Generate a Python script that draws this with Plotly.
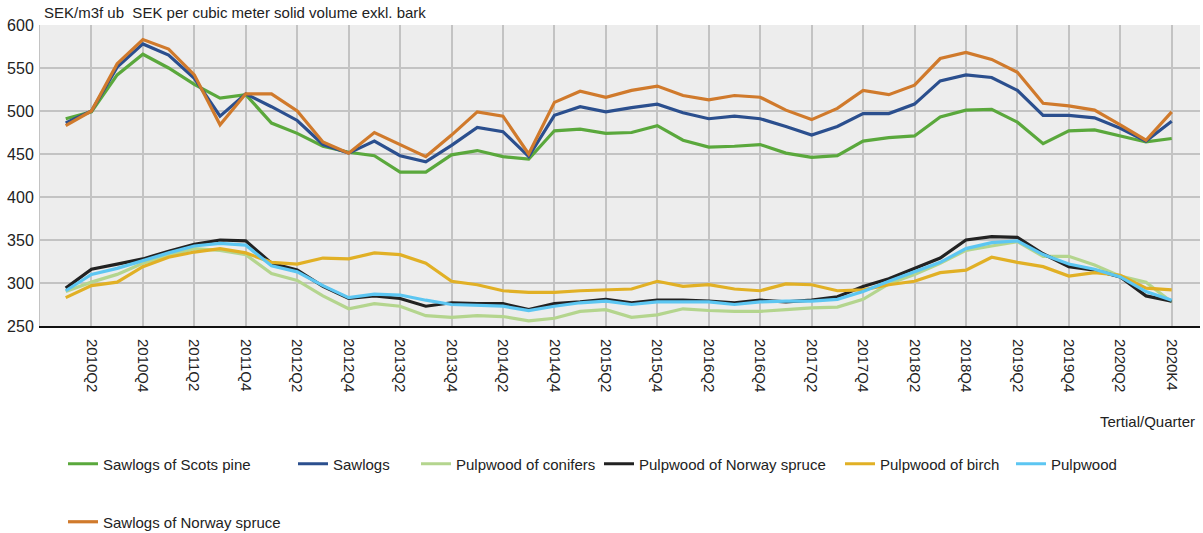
import plotly.graph_objects as go

# ---------------- data ----------------
quarter_index = list(range(44))  # 2010Q1 ... 2020Q4

tick_positions = list(range(1, 44, 2))
tick_labels = [
    "2010Q2", "2010Q4", "2011Q2", "2011Q4", "2012Q2", "2012Q4", "2013Q2", "2013Q4",
    "2014Q2", "2014Q4", "2015Q2", "2015Q4", "2016Q2", "2016Q4", "2017Q2", "2017Q4",
    "2018Q2", "2018Q4", "2019Q2", "2019Q4", "2020Q2", "2020K4",
]

sawlogs_scots_pine = [491, 499, 542, 566, 550, 531, 515, 519, 486, 474, 459, 452, 448, 429, 429, 449,
                      454, 447, 444, 477, 479, 474, 475, 483, 466, 458, 459, 461, 451, 446, 448, 465,
                      469, 471, 493, 501, 502, 487, 462, 477, 478, 471, 464, 468]
sawlogs = [486, 500, 551, 578, 565, 538, 494, 520, 505, 489, 461, 451, 465, 448, 441, 460,
           481, 476, 447, 495, 505, 499, 504, 508, 498, 491, 494, 491, 482, 472, 482, 497,
           497, 508, 535, 542, 539, 524, 495, 495, 492, 480, 465, 488]
pulpwood_conifers = [290, 301, 310, 323, 332, 340, 338, 333, 311, 303, 285, 270, 276, 273, 262, 260,
                     262, 261, 256, 259, 267, 269, 260, 263, 270, 268, 267, 267, 269, 271, 272, 281,
                     299, 310, 323, 338, 343, 348, 331, 331, 321, 308, 301, 278]
pulpwood_norway_spruce = [294, 316, 322, 328, 337, 345, 350, 349, 323, 315, 296, 282, 285, 282, 273, 277,
                          276, 276, 269, 276, 278, 281, 277, 280, 280, 279, 277, 280, 278, 280, 284, 296,
                          305, 317, 329, 350, 354, 353, 334, 319, 315, 307, 285, 279]
pulpwood_birch = [283, 297, 301, 319, 330, 336, 340, 335, 324, 322, 329, 328, 335, 333, 323, 302,
                  298, 291, 289, 289, 291, 292, 293, 302, 296, 298, 293, 291, 299, 298, 291, 292,
                  298, 302, 312, 315, 330, 324, 319, 308, 312, 309, 294, 292]
pulpwood = [291, 310, 317, 326, 335, 343, 346, 344, 320, 313, 297, 283, 287, 286, 280, 275,
            274, 273, 268, 273, 277, 279, 275, 278, 278, 278, 275, 278, 279, 279, 281, 290,
            302, 313, 324, 340, 347, 349, 333, 322, 316, 307, 290, 280]
sawlogs_norway_spruce = [483, 500, 555, 583, 572, 542, 484, 520, 520, 500, 464, 451, 475, 461, 447, 472,
                         499, 494, 450, 510, 523, 516, 524, 529, 518, 513, 518, 516, 501, 490, 503, 524,
                         519, 530, 561, 568, 560, 545, 509, 506, 501, 484, 466, 499]

series_names = ["Sawlogs of Scots pine", "Sawlogs", "Pulpwood of conifers",
                "Pulpwood of Norway spruce", "Pulpwood of birch", "Pulpwood",
                "Sawlogs of Norway spruce"]
series_values = [sawlogs_scots_pine, sawlogs, pulpwood_conifers, pulpwood_norway_spruce,
                 pulpwood_birch, pulpwood, sawlogs_norway_spruce]

# ---------------- style ----------------
colors = ["#5aa83c", "#2b4f8e", "#b4d58e", "#222222", "#e1b025", "#5cc6f2", "#d07a2c"]
FONT = "Liberation Sans, Arial, sans-serif"
W, H = 1203, 533
# legend positions (pixels: left of line sample, vertical centre)
legend_px = [(63, 464), (293, 464), (416, 464), (599, 464), (840, 464), (1011, 464), (63, 522)]

fig = go.Figure()
legend_ids = ["legend"] + [f"legend{i}" for i in range(2, 8)]
for name, vals, col, lid in zip(series_names, series_values, colors, legend_ids):
    fig.add_trace(go.Scatter(
        x=quarter_index, y=vals, name=name, mode="lines",
        line=dict(color=col, width=3.2), legend=lid,
    ))

layout_legends = {}
for lid, (px, py) in zip(legend_ids, legend_px):
    layout_legends[lid] = dict(
        xref="container", yref="container",
        x=px / W, y=1 - py / H, xanchor="left", yanchor="middle",
        orientation="h", bgcolor="rgba(0,0,0,0)",
        font=dict(family=FONT, size=15, color="#222222"),
        itemwidth=30, tracegroupgap=0,
    )

fig.update_layout(
    width=W, height=H, autosize=False,
    margin=dict(l=40, r=3, t=25, b=207),
    paper_bgcolor="white", plot_bgcolor="#ededed",
    font=dict(family=FONT, size=15, color="#222222"),
    showlegend=True,
    **layout_legends,
)

fig.update_xaxes(
    range=[-1, 44.1], tickmode="array", tickvals=tick_positions, ticktext=tick_labels,
    tickangle=90, showgrid=True, gridcolor="#c3c3c3", gridwidth=2,
    showline=True, linecolor="#111111", linewidth=2, zeroline=False,
    tickfont=dict(family=FONT, size=15, color="#222222"), ticks="", ticklabelstandoff=8,
)
fig.update_yaxes(
    range=[250, 600], tickmode="linear", tick0=250, dtick=50,
    showgrid=True, gridcolor="#c3c3c3", gridwidth=2, zeroline=False,
    showline=True, linecolor="#c3c3c3", linewidth=1,
    tickfont=dict(family=FONT, size=16, color="#222222"), ticks="", ticklabelstandoff=2,
)

fig.add_annotation(
    xref="paper", yref="paper", x=(42 - 40) / 1160, y=1 + 13 / 301,
    xanchor="left", yanchor="middle", showarrow=False,
    text="SEK/m3f ub  SEK per cubic meter solid volume exkl. bark",
    font=dict(family=FONT, size=15, color="#222222"),
)
fig.add_annotation(
    xref="paper", yref="paper", x=(1197 - 40) / 1160, y=(326 - 421) / 301,
    xanchor="right", yanchor="middle", showarrow=False,
    text="Tertial/Quarter", font=dict(family=FONT, size=15, color="#222222"),
)

fig.write_html("out.html")
